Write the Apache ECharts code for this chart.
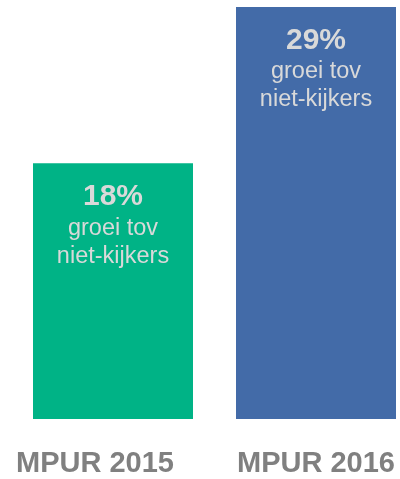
<!DOCTYPE html>
<html>
<head>
<meta charset="utf-8">
<script src="https://cdn.jsdelivr.net/npm/echarts@6/dist/echarts.min.js"></script>
<style>
  html, body { margin: 0; padding: 0; background: #fff; }
  #chart { width: 400px; height: 479px; }
</style>
</head>
<body>
<div id="chart"></div>
<script>
const categories = ['MPUR 2015', 'MPUR 2016'];
const growth = [18, 29];
const barColors = ['#00B386', '#436BA8'];
const subLabel = ['groei tov', 'niet-kijkers'];

const chart = echarts.init(document.getElementById('chart'));

chart.setOption({
  animation: false,
  grid: { left: 11.5, width: 406, top: 7, bottom: 60, containLabel: false, outerBoundsMode: 'none' },
  xAxis: {
    type: 'category',
    data: categories,
    axisLine: { show: false },
    axisTick: { show: false },
    axisLabel: {
      margin: 30,
      interval: 0,
      formatter: (v, i) => i === 0 ? '{l|' + v + '}' : '{r|' + v + '}',
      rich: {
        l: { fontFamily: 'Liberation Sans', fontWeight: 'bold', fontSize: 29, color: '#808080', padding: [0, 36, 0, 0] },
        r: { fontFamily: 'Liberation Sans', fontWeight: 'bold', fontSize: 29, color: '#808080' }
      }
    }
  },
  yAxis: {
    type: 'value',
    min: 0,
    max: 29,
    show: false,
    splitLine: { show: false }
  },
  series: [{
    type: 'bar',
    barWidth: 160,
    data: growth.map((v, i) => ({ value: v, itemStyle: { color: barColors[i] } })),
    label: {
      show: true,
      position: 'insideTop',
      distance: 16,
      formatter: p => '{v|' + p.value + '%}\n{t|' + subLabel[0] + '}\n{t|' + subLabel[1] + '}',
      rich: {
        v: { fontFamily: 'Liberation Sans', fontWeight: 'bold', fontSize: 30, lineHeight: 35, color: '#D9D9D9', align: 'center' },
        t: { fontFamily: 'Liberation Sans', fontSize: 23.5, lineHeight: 28, color: '#D9D9D9', align: 'center' }
      }
    }
  }]
});
</script>
</body>
</html>
